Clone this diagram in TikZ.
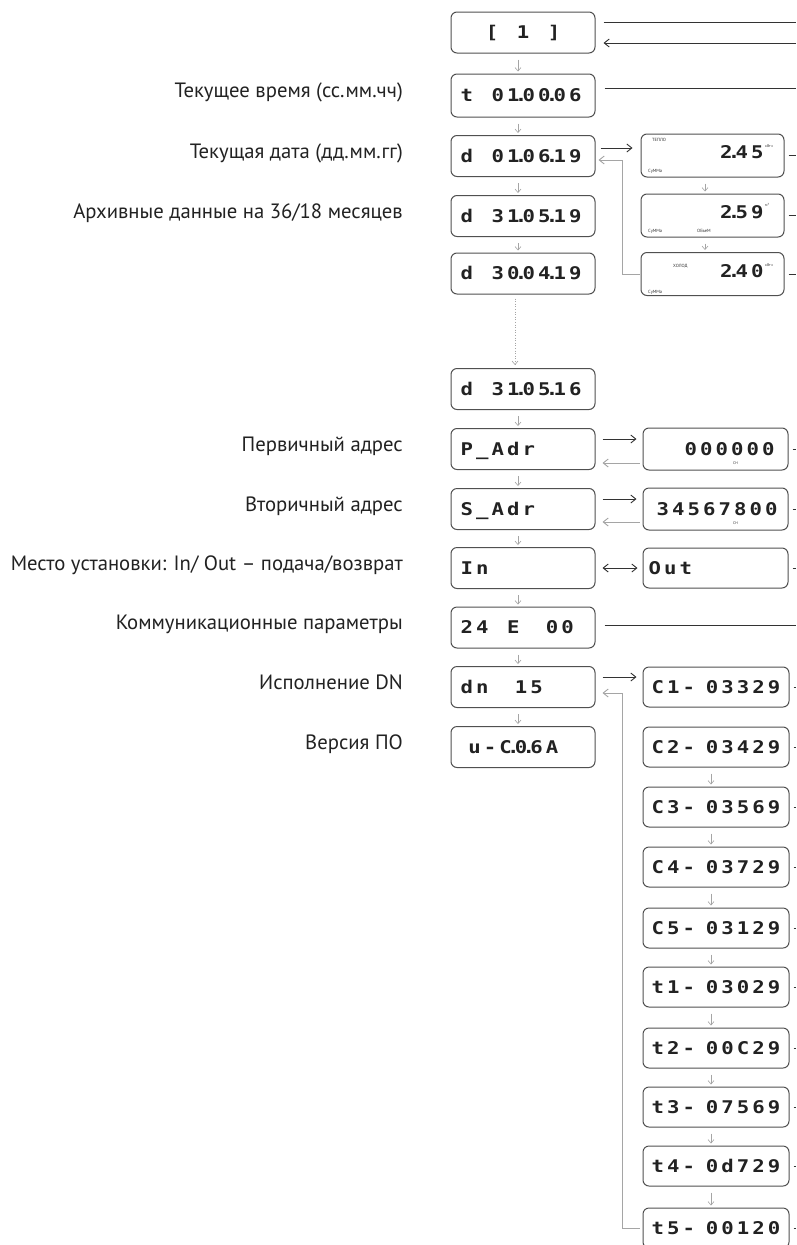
\documentclass[tikz,border=0pt]{standalone}
\usepackage{fontspec}
\setmainfont{PT Sans}
\newfontfamily\lcdfont[FakeStretch=1.18]{DejaVu Sans Mono}
\usetikzlibrary{arrows.meta}
\definecolor{boxc}{HTML}{505050}
\definecolor{lgray}{HTML}{A5A5A5}
\definecolor{dgray}{HTML}{333333}
\definecolor{txt}{HTML}{222222}
\newlength\lcdw
\setlength\lcdw{15.5pt}
\makeatletter
\newcommand\lcd[1]{{\lcdfont\bfseries\fontsize{17.5pt}{17.5pt}\selectfont\lcd@loop#1\relax}}
\def\lcd@loop#1{\ifx\relax#1\else\lcd@c{#1}\expandafter\lcd@loop\fi}
\def\lcd@c#1{\ifx.#1\makebox[0pt][c]{.}\else\ifx~#1\hspace*{\lcdw}\else\ifx\,#1\hspace*{0.5\lcdw}\else\makebox[\lcdw][c]{#1}\fi\fi\fi}
\makeatother
\begin{document}
\begin{tikzpicture}[x=1pt,y=-1pt,
  box/.style={draw=boxc,line width=1pt,rounded corners=6pt,text=txt,inner ysep=0pt,text height=12.6pt,text depth=0pt},
  lbox/.style={box,minimum height=41pt,text width=128pt,inner xsep=8pt,align=left},
  cbox/.style={box,minimum height=40pt,text width=138pt,inner xsep=4pt,align=center},
  pbox/.style={box,minimum height=42pt,text width=121pt,inner xsep=12pt,align=right},
  obox/.style={box,minimum height=40pt,text width=137pt,inner xsep=4pt,align=left},
  tbox/.style={box,minimum height=43pt,text width=105pt,inner xsep=19pt,align=right,text depth=6pt},
  lab/.style={anchor=east,inner sep=0pt,text=txt,font=\fontsize{20.7pt}{22pt}\selectfont,text height=14.5pt,text depth=4.5pt},
  tiny/.style={anchor=west,inner sep=0pt,text=dgray,font=\fontsize{4.5pt}{5pt}\selectfont},
  unit/.style={anchor=west,inner sep=0pt,text=dgray,font=\fontsize{3.8pt}{4pt}\selectfont},
  varr/.style={draw=lgray,line width=0.6pt,-{Straight Barb[length=3.5pt,width=6pt]},shorten <=6pt,shorten >=2pt},
  fwd/.style={draw=dgray,line width=0.9pt,-{Straight Barb[length=5pt,width=8pt]}},
  back/.style={draw=lgray,line width=0.9pt,-{Straight Barb[length=5pt,width=8pt]}},
  edge/.style={draw=dgray,line width=0.9pt}]
\useasboundingbox (0,0) rectangle (796,1245);
\fill[white] (0,0) rectangle (796,1245);
\coordinate (E) at (796,0);

% left column
\node[lbox,align=center] (b1) at (523,32.5) {\lcd{[~1~]}};
\node[lbox,minimum height=43pt] (b2) at (523,95.5) {\lcd{t~01.00.06}};
\node[lbox] (b3) at (523,156) {\lcd{d~01.06.19}};
\node[lbox] (b4) at (523,216) {\lcd{d~31.05.19}};
\node[lbox] (b5) at (523,273.5) {\lcd{d~30.04.19}};
\node[lbox] (b6) at (523,389) {\lcd{d~31.05.16}};
\node[lbox] (b7) at (523,449) {\lcd{P\_Adr}};
\node[lbox] (b8) at (523,509) {\lcd{S\_Adr}};
\node[lbox] (b9) at (523,568) {\lcd{In}};
\node[lbox] (b10) at (523,627.5) {\lcd{24~E~\,00}};
\node[lbox] (b11) at (523,687) {\lcd{dn~\,15}};
\node[lbox] (b12) at (523,747) {\lcd{\,u-C.0.6A}};

% labels
\node[lab] (L2) at (403,92) {Текущее время (сс.мм.чч)};
\node[lab] (L3) at (403,153) {Текущая дата (дд.мм.гг)};
\node[lab] (L4) at (403,213) {Архивные данные на 36/18 месяцев};
\node[lab] (L7) at (403,446) {Первичный адрес};
\node[lab] (L8) at (403,506) {Вторичный адрес};
\node[lab] (L9) at (403,565) {Место установки: In/ Out – подача/возврат};
\node[lab] (L10) at (403,624) {Коммуникационные параметры};
\node[lab] (L11) at (403,684) {Исполнение DN};
\node[lab] (L12) at (403,744) {Версия ПО};

% right top group
\node[tbox] (r1) at (712.5,155.5) {\lcd{2.45}};
\node[tbox] (r2) at (712.5,215.5) {\lcd{2.59}};
\node[tbox] (r3) at (712.5,274) {\lcd{2.40}};
\node[tiny] (r1a) at (652,140) {ТЕПЛО};
\node[tiny] (r1b) at (648,171) {СуММа};
\node[unit] (r1c) at (765,146) {кВтч};
\node[tiny] (r2a) at (648,231) {СуММа};
\node[tiny] (r2b) at (697,231) {ОБъеМ};
\node[unit] (r2c) at (765,205) {м³};
\node[tiny] (r3a) at (673,266) {ХОЛОД};
\node[tiny] (r3b) at (648,292) {СуММа};
\node[unit] (r3c) at (765,265) {кВтч};

% right other boxes
\node[pbox] (p) at (715.5,449) {\lcd{000000}};
\node[unit] (pa) at (733,463) {СН};
\node[pbox] (s) at (715.5,509) {\lcd{34567800}};
\node[unit] (sa) at (733,523) {СН};
\node[obox] (o) at (715.5,568) {\lcd{Out}};
\node[cbox] (c1) at (716,687) {\lcd{C1-\,03329}};
\node[cbox] (c2) at (716,747) {\lcd{C2-\,03429}};
\node[cbox] (c3) at (716,807) {\lcd{C3-\,03569}};
\node[cbox] (c4) at (716,867) {\lcd{C4-\,03729}};
\node[cbox] (c5) at (716,928) {\lcd{C5-\,03129}};
\node[cbox] (t1) at (716,987) {\lcd{t1-\,03029}};
\node[cbox] (t2) at (716,1048) {\lcd{t2-\,00C29}};
\node[cbox] (t3) at (716,1107) {\lcd{t3-\,07569}};
\node[cbox] (t4) at (716,1166) {\lcd{t4-\,0d729}};
\node[cbox] (t5) at (716,1228) {\lcd{t5-\,00120}};

% vertical arrows left
\foreach \a/\b in {b1/b2,b2/b3,b3/b4,b4/b5,b6/b7,b7/b8,b8/b9,b9/b10,b10/b11,b11/b12}
  \draw[varr] ([xshift=-5pt]\a.south) -- ([xshift=-5pt]\b.north);
\draw[varr,dotted,shorten <=4pt,shorten >=3pt] ([xshift=-8pt]b5.south) -- ([xshift=-8pt]b6.north);
% vertical arrows right
\foreach \a/\b in {r1/r2,r2/r3}
  \draw[varr] ([xshift=-7.5pt]\a.south) -- ([xshift=-7.5pt]\b.north);
\foreach \a/\b in {c2/c3,c3/c4,c4/c5,c5/t1,t1/t2,t2/t3,t3/t4,t4/t5}
  \draw[varr] ([xshift=-5pt]\a.south) -- ([xshift=-5pt]\b.north);

% lines to the right edge
\coordinate (l1) at (796,22);
\coordinate (l2) at (796,43);
\coordinate (l3) at (796,88);
\coordinate (l4) at (796,625);
\draw[edge,shorten <=8pt] (b1.east |- l1) -- (l1);
\draw[fwd,shorten >=8pt] (l2) -- (b1.east |- l2);
\draw[edge,shorten <=9pt] (b2.east |- l3) -- (l3);
\draw[edge,shorten <=9pt] (b10.east |- l4) -- (l4);
\foreach \n in {r1,r2,r3,p,s,o,c1,c2,c3,c4,c5,t1,t2,t3,t4,t5}
  \draw[edge,shorten <=4pt] (\n.east) -- (\n.east -| E);

% horizontal connections
\path ([yshift=8pt]b3.east) coordinate (f3);
\draw[fwd,shorten <=5pt,shorten >=8pt] (f3) -- (f3 -| r1.west);
\coordinate (k1) at (622,160);
\draw[back,shorten <=1pt,shorten >=3pt] (r3.west) -| (k1) -- (k1 -| b3.east);

\path ([yshift=10pt]b7.east) coordinate (f7);
\draw[fwd,shorten <=7pt,shorten >=6pt] (f7) -- (f7 -| p.west);
\path ([yshift=-14pt]b7.east) coordinate (g7);
\draw[back,shorten <=3pt,shorten >=7pt] (g7 -| p.west) -- (g7);

\path ([yshift=10pt]b8.east) coordinate (f8);
\draw[fwd,shorten <=7pt,shorten >=6pt] (f8) -- (f8 -| s.west);
\path ([yshift=-13pt]b8.east) coordinate (g8);
\draw[back,shorten <=3pt,shorten >=7pt] (g8 -| s.west) -- (g8);

\draw[fwd,{Straight Barb[length=5pt,width=8pt]}-{Straight Barb[length=5pt,width=8pt]},shorten <=7pt,shorten >=5pt] (b9.east) -- (o.west);

\path ([yshift=10pt]b11.east) coordinate (f11);
\draw[fwd,shorten <=7pt,shorten >=6pt] (f11) -- (f11 -| c1.west);
\coordinate (k2) at (622,693);
\draw[back,shorten <=3pt,shorten >=7pt] (t5.west) -| (k2) -- (k2 -| b11.east);
\end{tikzpicture}
\end{document}
